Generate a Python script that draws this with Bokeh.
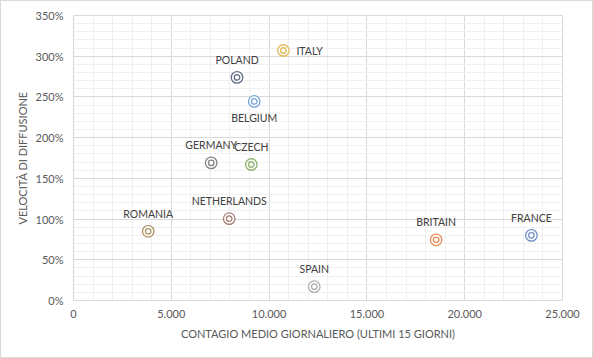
from bokeh.plotting import figure
from bokeh.models import (Range1d, FixedTicker, NumeralTickFormatter,
                          CustomJSTickFormatter, ColumnDataSource)
from bokeh.core.properties import value
from bokeh.embed import file_html
from bokeh.resources import INLINE

# ---- data ----
countries = ["ITALY", "POLAND", "BELGIUM", "GERMANY", "CZECH",
             "ROMANIA", "NETHERLANDS", "SPAIN", "BRITAIN", "FRANCE"]
contagio = [10730, 8360, 9240, 7040, 9090, 3820, 7960, 12310, 18540, 23410]
velocita = [3.07, 2.74, 2.445, 1.69, 1.67, 0.85, 1.005, 0.17, 0.745, 0.80]
label_pos = ["right", "above", "below", "above", "above",
             "above", "above", "above", "above", "above"]
colors = ["#E3B95A", "#656E86", "#77A6DD", "#848484", "#8EB46E",
          "#AD9566", "#A68071", "#ADADAD", "#EA8D58", "#7390C6"]
x_ticks = [0, 5000, 10000, 15000, 20000, 25000]
y_ticks = [0, 0.5, 1.0, 1.5, 2.0, 2.5, 3.0, 3.5]

FONT = "Lato"

# offsets derived from label position names
xo, yo, ta = [], [], []
for pos in label_pos:
    if pos == "right":
        xo.append(13); yo.append(0); ta.append("left")
    elif pos == "below":
        xo.append(0); yo.append(17); ta.append("center")
    else:
        xo.append(0); yo.append(-17.5); ta.append("center")

src = ColumnDataSource(dict(x=contagio, y=velocita, name=countries, c=colors,
                            xo=xo, yo=yo, ta=ta))

p = figure(output_backend="svg", toolbar_location=None,
           x_range=Range1d(0, 25000), y_range=Range1d(0, 3.5),
           frame_width=489, frame_height=285,
           min_border_left=72, min_border_right=30, min_border_top=14,
           min_border_bottom=57)
p.styles = {"border": "1px solid #D9D9D9"}
p.background_fill_color = "white"
p.border_fill_color = "white"
p.outline_line_color = "#D9D9D9"
p.outline_line_width = 1

# grid
minor_x = [v for v in range(0, 25001, 1000) if v % 5000 != 0]
minor_y = [i / 10 for i in range(0, 36) if i % 5 != 0]
p.xaxis.ticker = FixedTicker(ticks=x_ticks, minor_ticks=minor_x)
p.yaxis.ticker = FixedTicker(ticks=y_ticks, minor_ticks=minor_y)
for g in (p.xgrid, p.ygrid):
    g.grid_line_color = "#D9D9D9"
    g.grid_line_width = 1
    g.minor_grid_line_color = "#F0F0F0"
    g.minor_grid_line_width = 1

p.yaxis.formatter = NumeralTickFormatter(format="0%")
p.xaxis.formatter = CustomJSTickFormatter(code="""
    const s = Math.round(tick).toString();
    return s.replace(/\\B(?=(\\d{3})+(?!\\d))/g, '.');
""")

for ax in (p.xaxis, p.yaxis):
    ax.axis_line_color = None
    ax.major_tick_line_color = None
    ax.minor_tick_line_color = None
    ax.major_tick_out = 0
    ax.major_tick_in = 0
    ax.minor_tick_out = 0
    ax.minor_tick_in = 0
    ax.major_label_text_font = FONT
    ax.major_label_text_font_size = "11px"
    ax.major_label_text_color = "#595959"
    ax.axis_label_text_font = FONT
    ax.axis_label_text_font_size = "11px"
    ax.axis_label_text_color = "#595959"
    ax.axis_label_text_font_style = "normal"

p.xaxis.axis_label = "CONTAGIO MEDIO GIORNALIERO (ULTIMI 15 GIORNI)"
p.yaxis.axis_label = "VELOCITÀ DI DIFFUSIONE"
p.xaxis.major_label_standoff = 9
p.yaxis.major_label_standoff = 10
p.xaxis.axis_label_standoff = 6
p.yaxis.axis_label_standoff = 4

# markers: outer ring and inner ring
p.scatter("x", "y", source=src, marker="circle", size=11.5,
          fill_color="white", line_color="c", line_width=1.3)
p.scatter("x", "y", source=src, marker="circle", size=5.5,
          fill_color="white", line_color="c", line_width=1.3)

p.text("x", "y", text="name", source=src, x_offset="xo", y_offset="yo",
       text_align="ta", text_baseline="middle", text_color="#404040",
       text_font=value(FONT), text_font_size="10.5px")

open("out.html", "w").write(file_html(p, INLINE))
